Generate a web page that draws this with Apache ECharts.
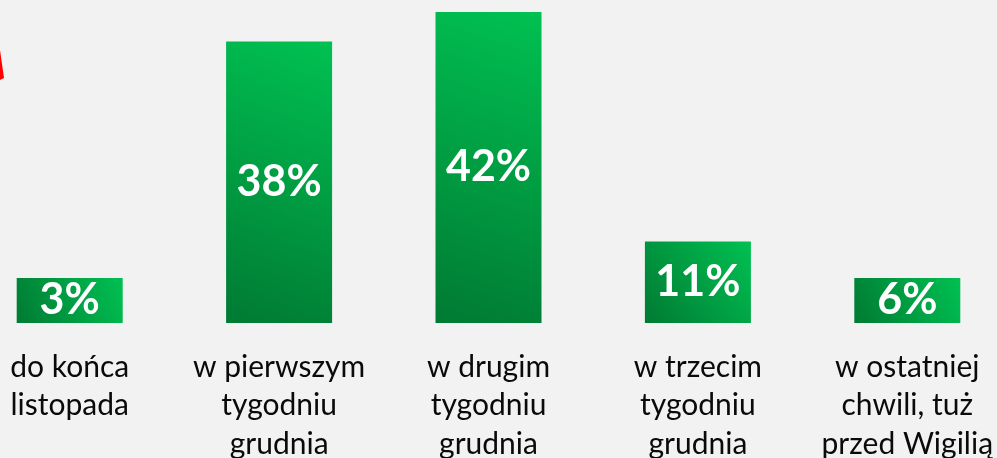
<!DOCTYPE html>
<html>
<head>
<meta charset="utf-8">
<script src="https://cdn.jsdelivr.net/npm/echarts@6/dist/echarts.min.js"></script>
<style>
    html, body { margin: 0; padding: 0; background: #f2f2f2; }
    #chart { width: 997px; height: 458px; }
</style>
</head>
<body>
<div id="chart"></div>
<script>
const categories = [
    'do końca\nlistopada',
    'w pierwszym\ntygodniu\ngrudnia',
    'w drugim\ntygodniu\ngrudnia',
    'w trzecim\ntygodniu\ngrudnia',
    'w ostatniej\nchwili, tuż\nprzed Wigilią'
];
const values = [3, 38, 42, 11, 6];

function getChartOption() {
    const option = {
        backgroundColor: '#f2f2f2',
        animation: false,
        grid: {
            left: -35,
            width: 1047,
            top: 12,
            bottom: 135,
            containLabel: false,
            outerBoundsMode: 'none'
        },
        xAxis: {
            type: 'category',
            data: categories,
            axisLine: { show: false },
            axisTick: { show: false },
            axisLabel: {
                margin: 25,
                interval: 0,
                color: '#0a0a0a',
                fontFamily: 'Lato',
                fontSize: 30,
                lineHeight: 38.5
            }
        },
        yAxis: {
            type: 'value',
            min: 0,
            max: 42,
            show: false,
            splitLine: { show: false }
        },
        graphic: [
            {
                type: 'polygon',
                shape: { points: [[0, 50], [4, 78], [0, 80]] },
                style: { fill: '#ff0000' }
            }
        ],
        series: [
            {
                type: 'bar',
                data: values,
                barWidth: 106,
                barMinHeight: 45,
                itemStyle: {
                    color: new echarts.graphic.LinearGradient(0, 1, 1, 0, [
                        { offset: 0, color: '#007a33' },
                        { offset: 1, color: '#00c152' }
                    ])
                },
                label: {
                    show: true,
                    position: 'inside',
                    formatter: '{c}%',
                    color: '#fff',
                    fontFamily: 'Lato',
                    fontWeight: 'bold',
                    fontSize: 43
                }
            }
        ]
    };
    return option;
}

const chart = echarts.init(document.getElementById('chart'));
chart.setOption(getChartOption());
</script>
</body>
</html>
